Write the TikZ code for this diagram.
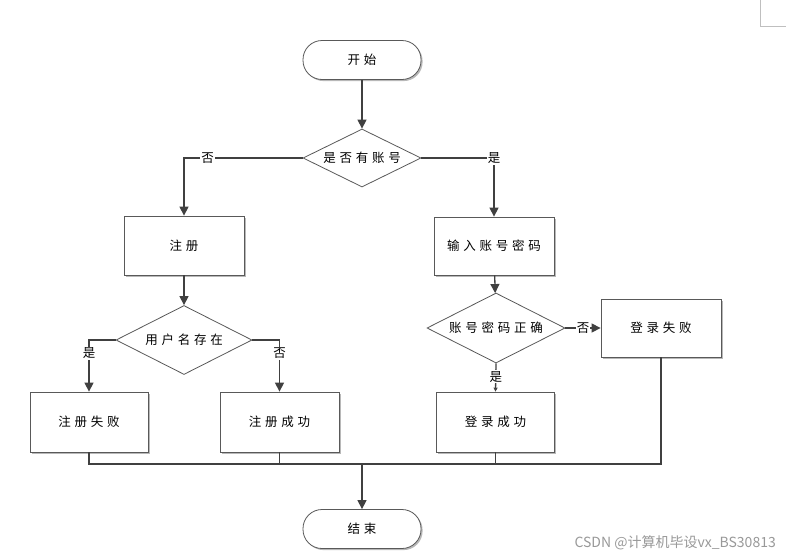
\documentclass[tikz,border=0pt]{standalone}
\usepackage{fontspec}
\newfontfamily\cjk{Noto Sans CJK SC}
\usetikzlibrary{shapes.geometric,shadows,arrows.meta}
\begin{document}
\begin{tikzpicture}[x=1pt,y=-1pt,
  font={\cjk\fontsize{12.5}{14}\selectfont\addfontfeature{LetterSpace=30}},
  shad/.style={drop shadow={shadow xshift=1.6pt,shadow yshift=-1.6pt,fill=black!28,opacity=1}},
  box/.style={draw=black!65,fill=white,line width=0.8pt,minimum width=120pt,minimum height=59pt,inner sep=0pt,shad},
  term/.style={draw=black!65,fill=white,line width=0.8pt,rounded corners=19pt,minimum width=118pt,minimum height=39pt,inner sep=0pt,shad},
  dec/.style={diamond,aspect=2,draw=black!65,fill=white,line width=0.8pt,inner sep=0pt},
  ln/.style={draw=black!75,line width=1.3pt},
  arr/.style={ln,-{Triangle[length=9pt,width=9pt]}},
  sarr/.style={ln,-{Triangle[length=4pt,width=4pt]}},
  lab/.style={fill=white,inner sep=1pt}]
\useasboundingbox (0,0) rectangle (786,557);
\fill[white] (0,0) rectangle (786,557);
\draw[black!25,line width=0.8pt] (760,0) -- (760,26) -- (786,26);

\node[term] (start) at (362,60) {开始};
\node[dec,minimum width=118pt,minimum height=58pt] (d1) at (362,158) {是否有账号};
\node[box] (reg) at (184,245.5) {注册};
\node[box,minimum height=58pt] (inp) at (494,246) {输入账号密码};
\node[dec,minimum width=136pt,minimum height=69pt] (d2) at (184,340) {用户名存在};
\node[dec,minimum width=138pt,minimum height=70pt] (d3) at (496,328) {账号密码正确};
\node[box,minimum width=120pt,minimum height=58pt] (lfail) at (661,328) {登录失败};
\node[box,minimum width=118pt,minimum height=60pt] (rfail) at (89,422) {注册失败};
\node[box,minimum width=119pt,minimum height=60pt] (rok) at (279.5,422) {注册成功};
\node[box,minimum width=118pt,minimum height=60pt] (lok) at (495.5,422) {登录成功};
\node[term] (end) at (362,529) {结束};
\node[font={\cjk\fontsize{14}{16}\selectfont},text=black!40,anchor=east,inner sep=0pt] (wm) at (776,543) {CSDN @计算机毕设vx\_BS30813};

\draw[arr] (start) -- (d1);
\draw[arr] (d1.west) -| node[lab,pos=0.4] {否} (reg.north);
\draw[arr] (d1.east) -| node[lab,pos=0.5] {是} (inp.north);
\draw[arr] (reg) -- (d2);
\draw[arr] (inp) -- (d3);
\draw[arr] (d2.west) -| node[lab,pos=0.63] {是} (rfail.north);
\draw[arr] (d2.east) -| node[lab,pos=0.63] {否} (rok.north);
\draw[arr] (d3.east) -- node[lab] {否} (lfail.west);
\draw[sarr] (d3.south) -- node[lab,pos=0.48] {是} (lok.north);

\coordinate (bus) at (362,464);
\draw[ln] (rfail.south) |- (bus);
\draw[ln] (rok.south) |- (bus);
\draw[ln] (lok.south) |- (bus);
\draw[ln] (lfail.south) |- (bus);
\draw[arr] (bus) -- (end.north);
\end{tikzpicture}
\end{document}
